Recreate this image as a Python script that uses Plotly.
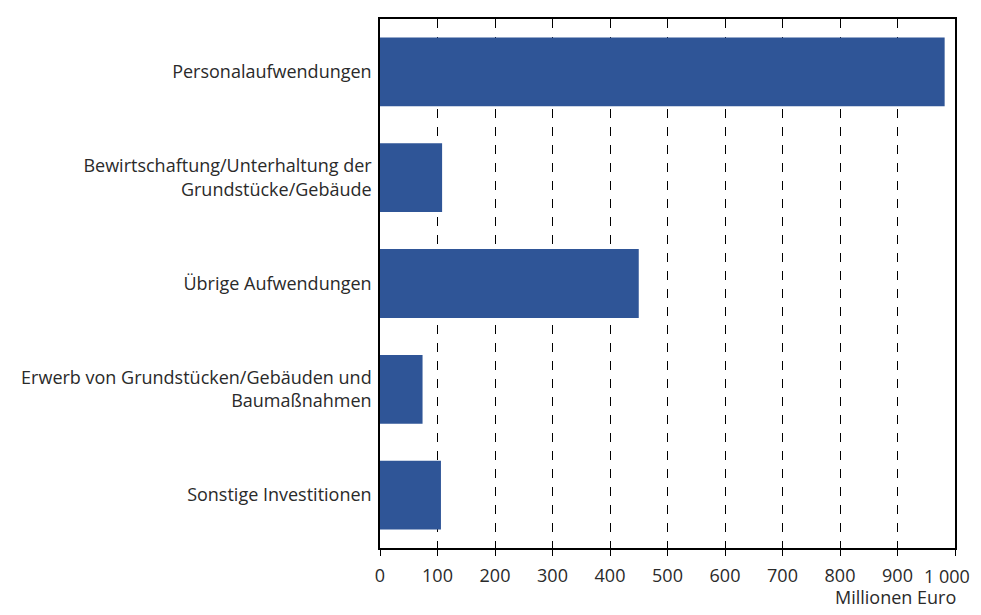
import plotly.graph_objects as go

categories = [
    "Personalaufwendungen",
    "Bewirtschaftung/Unterhaltung der<br>Grundstücke/Gebäude",
    "Übrige Aufwendungen",
    "Erwerb von Grundstücken/Gebäuden und<br>Baumaßnahmen",
    "Sonstige Investitionen",
]
values = [982, 108, 450, 74, 106]
tick_vals = [0, 100, 200, 300, 400, 500, 600, 700, 800, 900, 1000]
tick_text = ["0", "100", "200", "300", "400", "500", "600", "700", "800", "900", "1\u00a0000"]
axis_title = "Millionen Euro"

fig = go.Figure(go.Bar(
    x=values, y=categories, orientation="h",
    marker=dict(color="#2f5597", line=dict(width=0)),
))

font_family = "Open Sans, Lato, sans-serif"
text_color = "#2a2a2a"
fig.update_layout(
    width=965, height=599,
    margin=dict(l=372, r=18, t=9, b=59),
    plot_bgcolor="white", paper_bgcolor="white",
    bargap=0.35,
    showlegend=False,
    font=dict(family=font_family, size=18, color=text_color),
)
# last tick label is drawn as an annotation so it stays inside the page
shown_text = tick_text[:-1] + [""]
fig.update_xaxes(
    range=[0, 1000], tickvals=tick_vals, ticktext=shown_text,
    ticklabelstandoff=5,
    showgrid=True, gridcolor="#000000", gridwidth=1, griddash="dash",
    showline=True, linecolor="#000000", linewidth=1.5, mirror=True,
    ticks="outside", ticklen=6, tickcolor="#000000",
    zeroline=False, fixedrange=True,
)
fig.update_yaxes(
    autorange="reversed",
    showline=True, linecolor="#000000", linewidth=1.5, mirror=True,
    ticks="", ticklabelstandoff=3, showgrid=False, fixedrange=True,
)
fig.add_annotation(
    text=tick_text[-1], xref="paper", yref="paper", x=1.0, y=0,
    xanchor="right", yanchor="middle", xshift=17, yshift=-28, height=18,
    showarrow=False, font=dict(family=font_family, size=18, color=text_color),
)
fig.add_annotation(
    text=axis_title, xref="paper", yref="paper", x=1.005, y=-0.093,
    xanchor="right", yanchor="middle", height=18, showarrow=False,
    font=dict(family=font_family, size=18, color=text_color),
)
fig.write_html("out.html", config={"displayModeBar": False})
